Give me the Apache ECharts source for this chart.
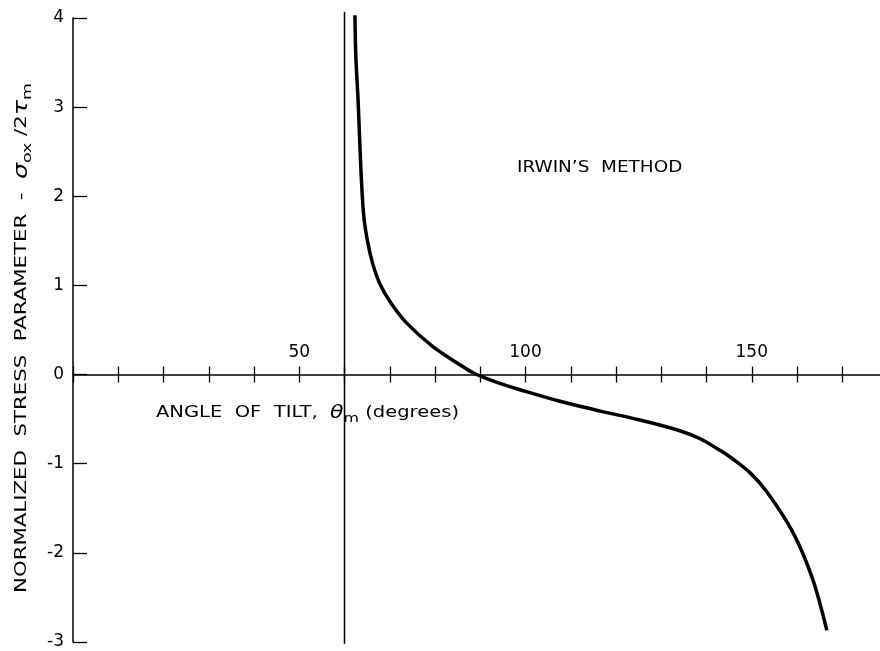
<!DOCTYPE html>
<html>
<head>
<meta charset="utf-8">
<script src="https://cdn.jsdelivr.net/npm/echarts@6/dist/echarts.min.js"></script>
<style>
html,body{margin:0;padding:0;background:#fff;}
#chart{width:880px;height:651px;}
</style>
</head>
<body>
<div id="chart"></div>
<script>
// Curve: normalized stress parameter vs angle of tilt (Irwin's method)
var curveX = [62.3, 62.5, 63.0, 63.6, 64.2, 65.0, 66.2, 67.8, 70.3, 73.7, 79.6, 85.5, 88.4, 92.2, 95.0, 98.8, 107.6, 116.5, 125.3, 134.1, 138.6, 143.0, 145.9, 149.6, 153.4, 159.1, 163.5, 166.6];
var curveY = [4.03, 3.57, 3.08, 2.33, 1.81, 1.52, 1.25, 1.02, 0.80, 0.58, 0.31, 0.11, 0.02, -0.06, -0.11, -0.17, -0.30, -0.41, -0.51, -0.63, -0.72, -0.85, -0.95, -1.10, -1.32, -1.77, -2.30, -2.87];
// Vertical reference line at theta = 60
var refX = [60, 60];
var refY = [4.07, -3.02];
var xLabelled = [50, 100, 150];
var yTicks = [-3, -2, -1, 0, 1, 2, 3, 4];

function pairs(xs, ys){ return xs.map(function(v,i){ return [v, ys[i]]; }); }

var FONT = '"DejaVu Sans", sans-serif';
var chart = echarts.init(document.getElementById('chart'), null, {renderer:'canvas'});
chart.setOption({
  animation:false,
  backgroundColor:'#fff',
  grid:[
    {left:73, right:-7.5, top:18, bottom:9, containLabel:false, outerBoundsMode:'none'},
    {left:73, right:-7.5, top:18, height:356.57, containLabel:false, outerBoundsMode:'none'}
  ],
  xAxis:[
    {gridIndex:0, type:'value', min:0, max:180, interval:10, position:'bottom',
     axisLine:{show:true, onZero:true, lineStyle:{color:'#000', width:1.5}},
     axisTick:{show:true, length:8, lineStyle:{color:'#000', width:1.3}},
     axisLabel:{show:false}, splitLine:{show:false}},
    {gridIndex:1, type:'value', min:0, max:180, interval:10, position:'bottom',
     axisLine:{show:false},
     axisTick:{show:true, inside:true, length:8, lineStyle:{color:'#000', width:1.3}},
     axisLabel:{show:true, inside:true, margin:13, color:'#000', fontSize:17, fontFamily:FONT,
       formatter:function(v){ return xLabelled.indexOf(v) >= 0 ? String(v) : ''; }},
     splitLine:{show:false}}
  ],
  yAxis:[
    {gridIndex:0, type:'value', min:-3, max:4, interval:1,
     axisLine:{show:true, onZero:false, lineStyle:{color:'#000', width:1.5}},
     axisTick:{show:true, inside:true, length:14, lineStyle:{color:'#000', width:1.3}},
     axisLabel:{show:true, margin:9, color:'#000', fontSize:17, fontFamily:FONT,
       formatter:function(v){ return yTicks.indexOf(v) >= 0 ? (v < 0 ? '-' + Math.abs(v) : String(v)) : ''; }},
     splitLine:{show:false}},
    {gridIndex:1, type:'value', min:0, max:1, show:false}
  ],
  series:[
    {type:'line', xAxisIndex:0, yAxisIndex:0, data:pairs(refX, refY), showSymbol:false, clip:false,
     lineStyle:{color:'#000', width:1.5}, silent:true},
    {type:'line', xAxisIndex:0, yAxisIndex:0, data:pairs(curveX, curveY), showSymbol:false, clip:false,
     smooth:0.3, lineStyle:{color:'#000', width:3.5}, silent:true}
  ],
  graphic:[
    {type:'text', x:517, y:160, scaleX:1.15, style:{text:'IRWIN\u2019S  METHOD', fill:'#000', font:'16px ' + FONT}},
    {type:'text', x:156, y:401, scaleX:1.22, style:{
      text:'{a|ANGLE  OF  TILT,  }{t|\u03b8}{s|m}{a| (degrees)}',
      rich:{
        a:{fill:'#000', fontSize:16, fontFamily:FONT, lineHeight:24, verticalAlign:'middle'},
        t:{fill:'#000', fontSize:18, fontFamily:FONT, fontStyle:'italic', lineHeight:24, verticalAlign:'middle'},
        s:{fill:'#000', fontSize:13, fontFamily:FONT, lineHeight:14, verticalAlign:'bottom'}
      }}},
    {type:'text', x:10, y:593, rotation:Math.PI/2, scaleX:1.33, style:{
      text:'{a|NORMALIZED  STRESS  PARAMETER  -  }{g|\u03c3}{s|ox}{a| /2}{g|\u03c4}{s|m}',
      rich:{
        a:{fill:'#000', fontSize:16, fontFamily:FONT, lineHeight:24, verticalAlign:'middle'},
        g:{fill:'#000', fontSize:19, fontFamily:FONT, fontStyle:'italic', lineHeight:24, verticalAlign:'middle'},
        s:{fill:'#000', fontSize:13, fontFamily:FONT, lineHeight:14, verticalAlign:'bottom'}
      }}}
  ]
});
</script>
</body>
</html>
